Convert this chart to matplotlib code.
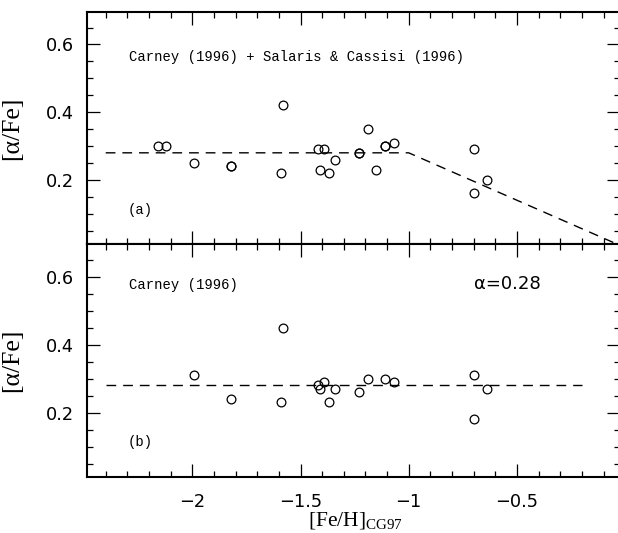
import numpy as np
import matplotlib
matplotlib.use("Agg")
import matplotlib.pyplot as plt
from matplotlib.ticker import MultipleLocator, FuncFormatter

plt.rcParams['mathtext.fontset'] = 'custom'
plt.rcParams['mathtext.rm'] = 'Liberation Serif'

# panel (a): Carney (1996) + Salaris & Cassisi (1996)
fe_a = [-2.16, -2.12, -1.99, -1.82, -1.82, -1.58, -1.59, -1.42, -1.39, -1.34, -1.41,
        -1.37, -1.23, -1.23, -1.19, -1.15, -1.11, -1.11, -1.07, -0.70, -0.70, -0.64]
alpha_a = [0.30, 0.30, 0.25, 0.24, 0.24, 0.42, 0.22, 0.29, 0.29, 0.26, 0.23,
           0.22, 0.28, 0.28, 0.35, 0.23, 0.30, 0.30, 0.31, 0.29, 0.16, 0.20]

# panel (b): Carney (1996)
fe_b = [-1.99, -1.82, -1.58, -1.59, -1.42, -1.39, -1.41, -1.34, -1.37, -1.23,
        -1.19, -1.11, -1.07, -0.70, -0.70, -0.64]
alpha_b = [0.31, 0.24, 0.45, 0.23, 0.28, 0.29, 0.27, 0.27, 0.23, 0.26,
           0.30, 0.30, 0.29, 0.31, 0.18, 0.27]

# adopted relations
line_a_x = [-2.4, -1.0, 0.0]
line_a_y = [0.28, 0.28, 0.0]
line_b_x = [-2.4, -0.2]
line_b_y = [0.28, 0.28]

fig = plt.figure(figsize=(6.18, 5.33), dpi=100)
ax1 = fig.add_axes([0.1413, 0.5417, 0.862, 0.4353])
ax2 = fig.add_axes([0.1413, 0.1045, 0.862, 0.4372])

mono = 'Liberation Mono'
fmt = FuncFormatter(lambda v, p: f'{v:g}'.replace('-', '\u2212'))
for ax in (ax1, ax2):
    ax.set_xlim(-2.485, -0.0236)
    ax.set_ylim(0.01, 0.695)
    ax.xaxis.set_major_locator(MultipleLocator(0.5))
    ax.xaxis.set_minor_locator(MultipleLocator(0.1))
    ax.xaxis.set_major_formatter(fmt)
    ax.yaxis.set_major_locator(MultipleLocator(0.2))
    ax.yaxis.set_minor_locator(MultipleLocator(0.05))
    ax.tick_params(which='both', direction='in', top=True, right=True, width=0.9)
    ax.tick_params(which='major', length=9.5)
    ax.tick_params(which='minor', length=4)
    ax.tick_params(axis='y', labelsize=12.8, pad=9.5)
    ax.tick_params(axis='x', labelsize=12.8, pad=11)
    for s in ax.spines.values():
        s.set_linewidth(1.5)
    ax.set_ylabel('[α/Fe]', family='Liberation Serif', fontsize=18.5)
    ax.yaxis.set_label_coords(-0.1207, 0.5)

ax1.tick_params(axis='x', labelbottom=False)

ax1.plot(fe_a, alpha_a, 'o', mfc='none', mec='black', ms=6.3, mew=0.9)
ax1.plot(line_a_x, line_a_y, color='black', lw=1.0, dashes=(7, 5))
ax1.text(-2.291, 0.5635, 'Carney (1996) + Salaris & Cassisi (1996)', family=mono,
         fontsize=10, va='center', ha='left')
ax1.text(-2.297, 0.1106, '(a)', family=mono, fontsize=10, va='center', ha='left')

ax2.plot(fe_b, alpha_b, 'o', mfc='none', mec='black', ms=6.3, mew=0.9)
ax2.plot(line_b_x, line_b_y, color='black', lw=1.0, dashes=(7, 5))
ax2.text(-2.291, 0.575, 'Carney (1996)', family=mono, fontsize=10, va='center', ha='left')
ax2.text(-2.297, 0.115, '(b)', family=mono, fontsize=10, va='center', ha='left')
ax2.text(-0.70, 0.577, 'α=0.28', fontsize=13, va='center', ha='left')

fig.text(0.5755, 0.024, r'$\rm [Fe/H]_{CG97}$', fontsize=15.5, ha='center', va='center')

fig.savefig('out.png', dpi=100)
